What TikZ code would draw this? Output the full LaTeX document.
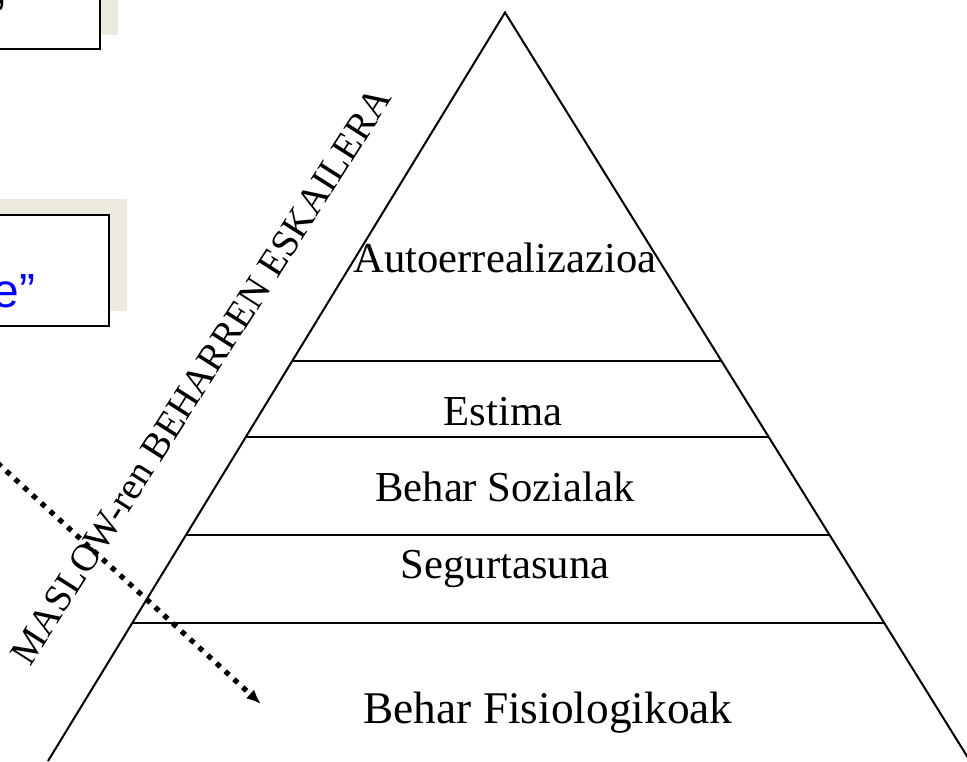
\documentclass[tikz,border=0pt]{standalone}
\usepackage{fontspec}
\setmainfont{Liberation Serif}
\newfontfamily\arialfont{Liberation Sans}
\usetikzlibrary{arrows.meta,calc}
\definecolor{shadowbeige}{RGB}{237,234,223}
\definecolor{boxblue}{RGB}{0,0,255}
\begin{document}
\begin{tikzpicture}[x=0.75pt,y=-0.75pt,
  edge/.style={line width=1.5pt},
  tier/.style={line width=1.4pt},
  lbl/.style={font=\fontsize{32}{38}\selectfont, inner sep=0pt, anchor=base},
  shadowrect/.style={fill=shadowbeige, draw=none},
  notebox/.style={fill=white, draw=black, line width=2pt},
  boxtext/.style={font=\arialfont\fontsize{36}{43}\selectfont, inner sep=0pt, anchor=base east},
  dotarrow/.style={line width=3.9pt, dash pattern=on 3.9pt off 5pt, -{Latex[length=11pt,width=9pt]}}
]
\useasboundingbox (0,0) rectangle (967,761);
\clip (0,0) rectangle (967,761);

% top-left note boxes (cut by the picture edge)
\fill[shadowrect] (-200,-80) rectangle (118,35);
\draw[notebox] (-200,-62) rectangle (100,49);
\node[boxtext] (boxonetext) at (5.5,32.6) {”};

\fill[shadowrect] (-200,199) rectangle (127,311);
\draw[notebox] (-200,215) rectangle (109,326);
\node[boxtext, text=boxblue] (boxtwotext) at (35.5,307) {e”};

% pyramid
\coordinate (apex) at (505,12.5);
\coordinate (bl) at (48,761);
\coordinate (br) at (970,761);
\draw[edge] (bl) -- (apex) -- (br);

\foreach \t/\n in {0.4656/a,0.5671/b,0.6981/c,0.8152/d}{
  \coordinate (l\n) at ($(apex)!\t!(bl)$);
  \coordinate (r\n) at ($(apex)!\t!(br)$);
  \draw[tier] (l\n) -- (r\n);
}

\node[lbl] (auto) at (505,272) {Autoerrealizazioa};
\node[lbl] (estima) at (503,425) {Estima};
\node[lbl] (sozial) at (505,501.5) {Behar Sozialak};
\node[lbl] (segur) at (505,578) {Segurtasuna};
\node[lbl, font=\fontsize{34}{40}\selectfont] (fisio) at (548,723) {Behar Fisiologikoak};

\node[font=\fontsize{29}{35}\selectfont, inner sep=0pt, anchor=base, rotate=57.5] (maslow) at (211.7,382.8) {MASLOW-ren BEHARREN ESKAILERA};

% dotted arrow
\coordinate (arrowstart) at (-20,447);
\coordinate (arrowend) at (261,704);
\draw[dotarrow] (arrowstart) -- (arrowend);
\end{tikzpicture}
\end{document}
